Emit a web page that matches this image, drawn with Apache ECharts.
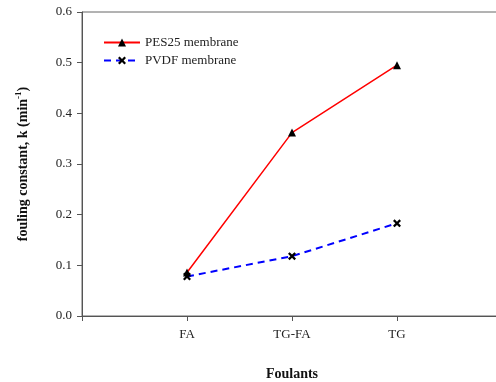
<!DOCTYPE html>
<html>
<head>
<meta charset="utf-8">
<script src="https://cdn.jsdelivr.net/npm/echarts@6/dist/echarts.min.js"></script>
<style>html,body{margin:0;padding:0;background:#fff;}#c{width:496px;height:382px;}</style>
</head>
<body>
<div id="c"></div>
<script>
var categories = ['FA', 'TG-FA', 'TG'];
var pes25 = [0.086, 0.362, 0.495];
var pvdf = [0.078, 0.118, 0.183];
var yTicks = [0.0, 0.1, 0.2, 0.3, 0.4, 0.5, 0.6];
var seriesNames = ['PES25 membrane', 'PVDF membrane'];

var FONT = '"Liberation Serif", "Times New Roman", serif';
var crossPath = 'path://M0,2L2,0L5,3L8,0L10,2L7,5L10,8L8,10L5,7L2,10L0,8L3,5Z';
function toXY(arr){ return arr.map(function(v,i){ return [i+1, v]; }); }

var chart = echarts.init(document.getElementById('c'));
chart.setOption({
  animation: false,
  backgroundColor: '#fff',
  grid: { left: 82, width: 420, top: 12, height: 304, show: true, borderColor: '#666', borderWidth: 1,
          containLabel: false, outerBoundsMode: 'none' },
  legend: {
    orient: 'vertical', left: 98, top: 31, itemWidth: 36, itemHeight: 10, itemGap: 5,
    textStyle: { fontFamily: FONT, fontSize: 13, color: '#222' },
    data: [
      { name: seriesNames[0] },
      { name: seriesNames[1] }
    ]
  },
  xAxis: {
    type: 'value', min: 0, max: 4, interval: 1,
    name: 'Foulants', nameLocation: 'middle', nameGap: 51,
    nameTextStyle: { fontFamily: FONT, fontSize: 14, fontWeight: 'bold', color: '#111' },
    axisLine: { show: true, lineStyle: { color: '#555', width: 1 } },
    axisTick: { show: true, length: 5, lineStyle: { color: '#555' } },
    splitLine: { show: false },
    axisLabel: {
      margin: 12, fontFamily: FONT, fontSize: 13, color: '#222',
      formatter: function(v){ var i = Math.round(v) - 1; return (i >= 0 && i < categories.length) ? categories[i] : ''; }
    }
  },
  yAxis: {
    type: 'value', min: 0, max: 0.6, interval: 0.1,
    name: '{b|fouling constant, k (min}{s|-1}{b|)}', nameLocation: 'middle', nameGap: 52,
    nameTextStyle: {
      rich: {
        b: { fontFamily: FONT, fontSize: 14, fontWeight: 'bold', color: '#111', lineHeight: 16, verticalAlign: 'bottom' },
        s: { fontFamily: FONT, fontSize: 9, fontWeight: 'bold', color: '#111', lineHeight: 16, verticalAlign: 'top', padding: [0,0,6,0] }
      }
    },
    axisLine: { show: true, lineStyle: { color: '#555', width: 1 } },
    axisTick: { show: true, length: 5, lineStyle: { color: '#555' } },
    splitLine: { show: false },
    axisLabel: {
      margin: 10, fontFamily: FONT, fontSize: 13, color: '#222',
      formatter: function(v){ return v.toFixed(1); }
    }
  },
  series: [
    {
      name: seriesNames[0], type: 'line', data: toXY(pes25),
      symbol: 'triangle', symbolSize: 8,
      itemStyle: { color: '#000' },
      lineStyle: { color: '#ff0000', width: 1.5, type: 'solid' },
      z: 3
    },
    {
      name: seriesNames[1], type: 'line', data: toXY(pvdf),
      symbol: crossPath, symbolSize: 8,
      itemStyle: { color: '#000' },
      lineStyle: { color: '#0000ff', width: 2, type: [7, 5] },
      z: 2
    }
  ]
});
</script>
</body>
</html>
